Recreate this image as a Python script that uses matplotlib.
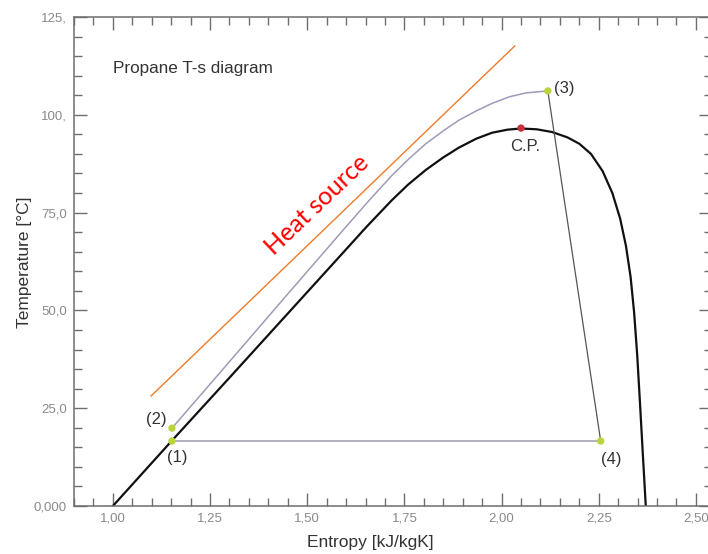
import matplotlib.pyplot as plt
from matplotlib.ticker import MultipleLocator

plt.rcParams['font.family'] = ['Liberation Sans', 'DejaVu Sans']

# saturation dome of propane
liq_s = [1.000, 1.150, 1.300, 1.450, 1.600, 1.651, 1.718, 1.760, 1.805, 1.850, 1.890, 1.935, 1.975, 2.015, 2.050]
liq_T = [0.0, 16.5, 32.8, 49.2, 65.6, 71.2, 78.2, 82.2, 85.9, 89.1, 91.6, 93.9, 95.4, 96.2, 96.5]
vap_s = [2.050, 2.090, 2.130, 2.170, 2.200, 2.230, 2.260, 2.285, 2.305, 2.320, 2.332, 2.341, 2.349, 2.356, 2.363, 2.371]
vap_T = [96.5, 96.3, 95.6, 94.2, 92.6, 90.0, 85.6, 80.0, 73.5, 66.5, 58.5, 49.5, 38.5, 26.5, 14.0, 0.0]

# heating curve (2) -> (3)
heat_s = [1.152, 1.300, 1.450, 1.600, 1.660, 1.718, 1.760, 1.805, 1.850, 1.890, 1.935, 1.975, 2.020, 2.063, 2.119]
heat_T = [19.9, 36.9, 54.2, 71.4, 78.2, 84.5, 88.6, 92.6, 95.9, 98.6, 101.0, 102.9, 104.6, 105.6, 106.1]

# cycle points
pt_names = ['(1)', '(2)', '(3)', '(4)']
pt_s = [1.152, 1.152, 2.119, 2.255]
pt_T = [16.6, 19.9, 106.1, 16.6]
cp_s, cp_T = 2.050, 96.6

# heat source line
src_s = [1.098, 2.034]
src_T = [28.1, 117.6]

xticks = [1.00, 1.25, 1.50, 1.75, 2.00, 2.25, 2.50]
xtick_labels = ['1,00', '1,25', '1,50', '1,75', '2,00', '2,25', '2,50']
yticks = [0, 25, 50, 75, 100, 125]
ytick_labels = ['0,000', '25,0', '50,0', '75,0', '100,', '125,']

fig = plt.figure(figsize=(7.08, 5.54), dpi=100)
ax = fig.add_axes([74 / 708, 48 / 554, 638 / 708, 489 / 554])

ax.plot(liq_s, liq_T, color='#111111', lw=1.6)
ax.plot(vap_s, vap_T, color='#111111', lw=1.6)
ax.plot(heat_s, heat_T, color='#9c9cb8', lw=1.1)
ax.plot([pt_s[2], pt_s[3]], [pt_T[2], pt_T[3]], color='#555555', lw=0.9)
ax.plot([pt_s[3], pt_s[0]], [pt_T[3], pt_T[0]], color='#9a9aae', lw=1.1)
ax.plot(src_s, src_T, color='#f07a2a', lw=1.0)

ax.scatter(pt_s, pt_T, s=28, color='#b8d63a', zorder=5, edgecolors='none')
ax.scatter([cp_s], [cp_T], s=28, color='#c8303c', zorder=5, edgecolors='none')

ax.text(1.165, 12.3, pt_names[0], fontsize=12, color='#333333', ha='center', va='center')
ax.text(1.113, 22.0, pt_names[1], fontsize=12, color='#333333', ha='center', va='center')
ax.text(2.160, 106.6, pt_names[2], fontsize=12, color='#333333', ha='center', va='center')
ax.text(2.281, 12.0, pt_names[3], fontsize=12, color='#333333', ha='center', va='center')
ax.text(2.060, 91.8, 'C.P.', fontsize=12, color='#333333', ha='center', va='center')

ax.text(1.0, 111.8, 'Propane T-s diagram', fontsize=12.3, color='#333333', ha='left', va='center')
ax.text(1.525, 76.9, 'Heat source', fontsize=18, color='#ff0000', family=['Lato', 'DejaVu Sans'],
        rotation=43.5, rotation_mode='anchor', ha='center', va='center')

ax.set_xlim(0.9, 0.9 + 638 / 388.7)
ax.set_ylim(0, 125)
ax.set_xticks(xticks)
ax.set_xticklabels(xtick_labels)
ax.set_yticks(yticks)
ax.set_yticklabels(ytick_labels)
ax.xaxis.set_minor_locator(MultipleLocator(0.05))
ax.yaxis.set_minor_locator(MultipleLocator(5))
ax.tick_params(which='both', direction='in', top=True, right=True, color='#6e6e6e',
               labelcolor='#8a8a8a', labelsize=9.5, width=1.0)
ax.tick_params(which='major', length=9.5, pad=5)
ax.tick_params(which='minor', length=5.5)
for sp in ax.spines.values():
    sp.set_color('#6e6e6e')
    sp.set_linewidth(1.1)

fig.text(25 / 708, 1 - 262 / 554, 'Temperature [°C]', rotation=90, fontsize=12.5,
         color='#333333', ha='center', va='center')
fig.text(370 / 708, 1 - 543 / 554, 'Entropy [kJ/kgK]', fontsize=12.5,
         color='#333333', ha='center', va='center')

plt.savefig('out.png', dpi=100)
